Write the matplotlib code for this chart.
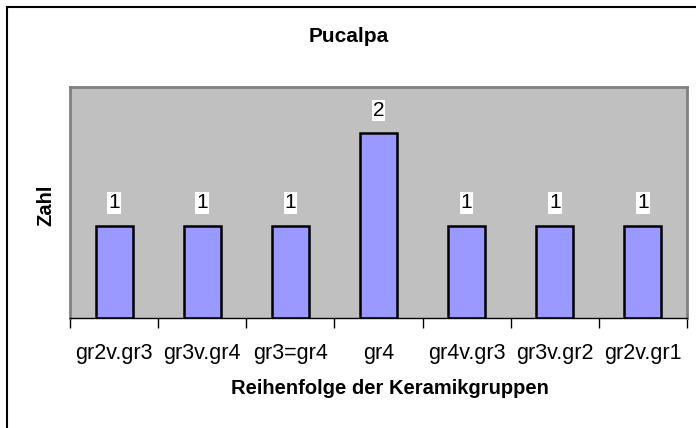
import matplotlib
matplotlib.use('Agg')
import matplotlib.pyplot as plt
from matplotlib.patches import Rectangle
import numpy as np

plt.rcParams['font.family'] = ['Liberation Sans', 'DejaVu Sans']

categories = ['gr2v.gr3', 'gr3v.gr4', 'gr3=gr4', 'gr4', 'gr4v.gr3', 'gr3v.gr2', 'gr2v.gr1']
counts = [1, 1, 1, 2, 1, 1, 1]

W, H = 696, 428
fig = plt.figure(figsize=(W / 100, H / 100), dpi=100)
fig.patch.set_facecolor('white')

# outer chart frame (only top/left show inside the image)
fig.patches.append(Rectangle((7 / W, -0.1), 1.2, (H - 7) / H + 0.1, transform=fig.transFigure,
                             fill=False, edgecolor='black', linewidth=1.5))

left, right, top, bottom = 70, 687, 87, 318
ax = fig.add_axes([left / W, 1 - bottom / H, (right - left) / W, (bottom - top) / H])
ax.set_facecolor('#c0c0c0')

x = np.arange(len(categories))
ax.bar(x, counts, width=0.42, color='#9999ff', edgecolor='black', linewidth=1.8, zorder=2)

for xi, c in zip(x, counts):
    ax.text(xi, c + 0.245, str(c), ha='center', va='center', fontsize=15,
            bbox=dict(facecolor='white', edgecolor='none', pad=0.8), zorder=3)

ax.set_xlim(-0.5, len(categories) - 0.5)
ax.set_ylim(0, 2.5)
ax.set_yticks([])

# ticks sit between the categories, labels under each bar
ax.set_xticks(np.arange(len(categories) + 1) - 0.5)
ax.set_xticklabels([])
ax.set_xticks(x, minor=True)
ax.set_xticklabels(categories, minor=True, fontsize=15.5)
ax.tick_params(axis='x', which='major', direction='out', length=7, width=1, color='black')
ax.tick_params(axis='x', which='minor', length=0, pad=18)

for side in ['top', 'left', 'right']:
    ax.spines[side].set_color('#808080')
    ax.spines[side].set_linewidth(2)
ax.spines['bottom'].set_color('black')
ax.spines['bottom'].set_linewidth(1)

fig.text(349 / W, 1 - 37 / H, 'Pucalpa', ha='center', va='center', fontsize=15, fontweight='bold')
fig.text(390 / W, 1 - 388 / H, 'Reihenfolge der Keramikgruppen', ha='center', va='center',
         fontsize=14.5, fontweight='bold')
fig.text(46 / W, 1 - 205 / H, 'Zahl', ha='center', va='center', rotation=90,
         fontsize=14.5, fontweight='bold')

fig.savefig('out.png', dpi=100)
